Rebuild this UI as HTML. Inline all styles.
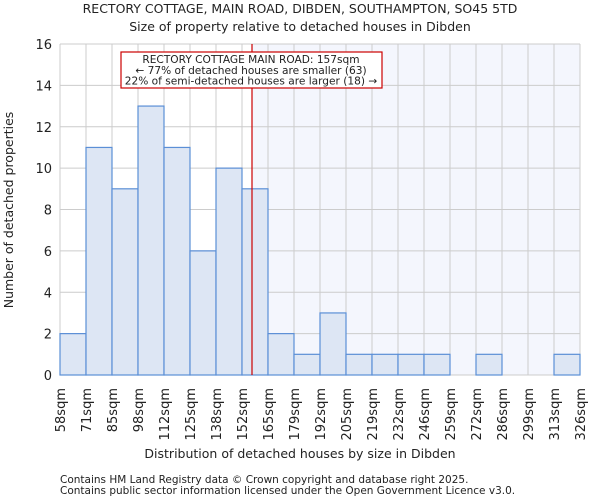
<!DOCTYPE html>
<html><head><meta charset="utf-8"><style>
body{margin:0;background:#fff;font-family:"DejaVu Sans","Liberation Sans",sans-serif;}
svg text{font-family:"DejaVu Sans","Liberation Sans",sans-serif;fill:#222;}
</style></head><body>
<svg id="c" width="600" height="500">
<text x="300" y="13" font-size="12.5" text-anchor="middle">RECTORY COTTAGE, MAIN ROAD, DIBDEN, SOUTHAMPTON, SO45 5TD</text>
<text x="300" y="31" font-size="12.5" text-anchor="middle">Size of property relative to detached houses in Dibden</text>
<g id="plot"></g>
<text x="300" y="458" font-size="12.5" text-anchor="middle">Distribution of detached houses by size in Dibden</text>
<text transform="translate(13,210) rotate(-90)" font-size="12.5" text-anchor="middle">Number of detached properties</text>
<text x="60" y="483" font-size="10.5">Contains HM Land Registry data © Crown copyright and database right 2025.</text>
<text x="60" y="494" font-size="10.5">Contains public sector information licensed under the Open Government Licence v3.0.</text>
</svg>
<script>
const tickLabels=["58sqm","71sqm","85sqm","98sqm","112sqm","125sqm","138sqm","152sqm","165sqm","179sqm","192sqm","205sqm","219sqm","232sqm","246sqm","259sqm","272sqm","286sqm","299sqm","313sqm","326sqm"];
const counts=[2,11,9,13,11,6,10,9,2,1,3,1,1,1,1,0,1,0,0,1];
const yTicks=[0,2,4,6,8,10,12,14,16];
const markerIndex=7+5/13;
const ns="http://www.w3.org/2000/svg";
const L=60,R=580,T=44,B=375,yMax=16;
const bw=(R-L)/counts.length;
const x=i=>L+i*bw, y=v=>B-(B-T)*v/yMax;
const g=document.getElementById('plot');
function mk(t,a){const e=document.createElementNS(ns,t);for(const k in a)e.setAttribute(k,a[k]);g.appendChild(e);return e;}
const mx=x(markerIndex);
let sh=mk('rect',{x:mx,y:T,width:R-mx,height:B-T,fill:'#f4f6fd'});


yTicks.forEach(v=>{let l=mk('line',{x1:L,x2:R,y1:y(v),y2:y(v),stroke:'#ccc'});


let t=mk('text',{x:L-8,y:y(v)+5,'font-size':13,'text-anchor':'end'});t.textContent=v;

});
tickLabels.forEach((s,i)=>{let l=mk('line',{x1:x(i),x2:x(i),y1:T,y2:B,stroke:'#ccc'});


let t=mk('text',{transform:`translate(${x(i)+5},388) rotate(-90)`,'font-size':13,'text-anchor':'end'});t.textContent=s;

});
counts.forEach((c,i)=>{if(!c)return;let r=mk('rect',{x:x(i),y:y(c),width:bw,height:B-y(c),fill:'#dde6f4',stroke:'#5b8fd6','stroke-width':1.2});

});
let ml=mk('line',{x1:mx,x2:mx,y1:T,y2:B,stroke:'#cc0000','stroke-width':1.2});


let box=mk('rect',{x:121,y:52,width:261,height:36,fill:'#fff',stroke:'#cc0000','stroke-width':1.2});


["RECTORY COTTAGE MAIN ROAD: 157sqm","← 77% of detached houses are smaller (63)","22% of semi-detached houses are larger (18) →"].forEach((s,i)=>{
let t=mk('text',{x:251,y:63+i*10.8,'font-size':10.6,'text-anchor':'middle'});t.textContent=s;

});
</script>
</body></html>
